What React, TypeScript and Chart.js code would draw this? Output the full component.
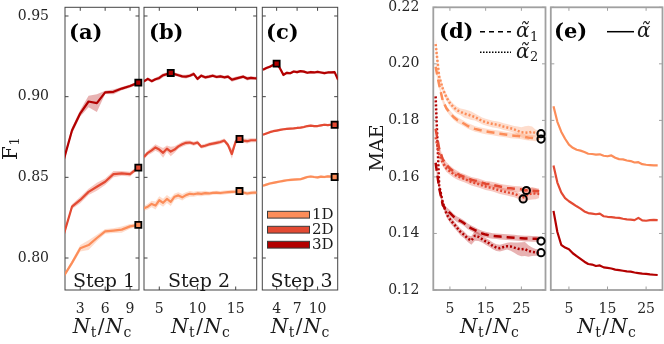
import React, { useEffect, useRef } from "react";
import { Chart, registerables } from "chart.js";

Chart.register(...registerables);

const W = 664;
const H = 344;
const TOP = 7.3;
const BOTTOM = 290;
const SERIF = '"DejaVu Serif", "Liberation Serif", serif';

const C1D = "#fc8d59";
const C2D = "#e34a33";
const C3D = "#b30000";

// ---------- Panel (a): Step 1 ----------
const xA = [1, 2, 3, 4, 5, 6, 7, 8, 9, 10];
const a1D = [0.7886, 0.797, 0.806, 0.808, 0.8124, 0.8165, 0.817, 0.8176, 0.8196, 0.8205];
const a2D = [0.8143, 0.8318, 0.836, 0.841, 0.8442, 0.8473, 0.852, 0.8525, 0.852, 0.856];
const a3D = [0.8607, 0.879, 0.8897, 0.897, 0.896, 0.9027, 0.903, 0.905, 0.9066, 0.9087];
const a1De = [0.001, 0.0015, 0.002, 0.003, 0.002, 0.0015, 0.0015, 0.002, 0.0015, 0.001];
const a2De = [0.001, 0.0015, 0.002, 0.002, 0.0025, 0.002, 0.002, 0.0015, 0.0015, 0.001];
const a3De = [0.001, 0.002, 0.002, 0.0035, 0.0055, 0.001, 0.0015, 0.001, 0.001, 0.0008];
const aBestX = [10, 10, 10];
const aBestY = [0.8205, 0.856, 0.9087];

// ---------- Panel (b): Step 2 ----------
const xB = [3, 3.5, 4, 4.5, 5, 5.5, 6, 6.5, 7, 7.5, 8, 8.5, 9, 9.5, 10, 10.5, 11, 11.5, 12, 12.5, 13, 13.5, 14, 14.5, 15, 15.5, 16, 16.5, 17, 17.5, 17.75];
const b1D = [0.8308, 0.8318, 0.8335, 0.8325, 0.8358, 0.8342, 0.8366, 0.8348, 0.838, 0.8388, 0.8376, 0.839, 0.8398, 0.8395, 0.84, 0.8398, 0.8402, 0.84, 0.8404, 0.8405, 0.8403, 0.8406, 0.8408, 0.841, 0.8412, 0.8415, 0.8406, 0.84, 0.8404, 0.8406, 0.8405];
const b2D = [0.8626, 0.8652, 0.8667, 0.8685, 0.8672, 0.8652, 0.8678, 0.866, 0.8672, 0.8692, 0.8705, 0.8714, 0.8716, 0.8708, 0.8716, 0.869, 0.8696, 0.8704, 0.8709, 0.8714, 0.8719, 0.8728, 0.87, 0.8645, 0.8722, 0.8738, 0.8728, 0.8724, 0.873, 0.873, 0.8731];
const b3D = [0.9095, 0.911, 0.9096, 0.9108, 0.9116, 0.9133, 0.914, 0.9147, 0.914, 0.9133, 0.9126, 0.9124, 0.913, 0.9141, 0.911, 0.913, 0.912, 0.9124, 0.913, 0.9122, 0.9126, 0.912, 0.9124, 0.9105, 0.9112, 0.9118, 0.9124, 0.9112, 0.9116, 0.9114, 0.9113];
const b1De = [0.0015, 0.0018, 0.002, 0.0025, 0.0025, 0.0025, 0.0025, 0.0025, 0.002, 0.002, 0.002, 0.0018, 0.0018, 0.0015, 0.0015, 0.0015, 0.0015, 0.0012, 0.0012, 0.0012, 0.0012, 0.0012, 0.0012, 0.0012, 0.0012, 0.0012, 0.0012, 0.0012, 0.0012, 0.0012, 0.0012];
const b2De = [0.0012, 0.0015, 0.0018, 0.002, 0.002, 0.003, 0.002, 0.003, 0.002, 0.0015, 0.0015, 0.0015, 0.0012, 0.0012, 0.0012, 0.0012, 0.0012, 0.0012, 0.0012, 0.0012, 0.0012, 0.0012, 0.0015, 0.003, 0.0015, 0.0015, 0.0012, 0.0015, 0.0012, 0.0012, 0.0012];
const b3De = [0.0008, 0.001, 0.001, 0.001, 0.0012, 0.0012, 0.001, 0.0012, 0.001, 0.001, 0.001, 0.0012, 0.001, 0.0012, 0.0012, 0.001, 0.001, 0.001, 0.001, 0.001, 0.001, 0.001, 0.001, 0.0012, 0.0012, 0.001, 0.001, 0.0012, 0.001, 0.001, 0.001];
const bBestX = [15.5, 15.5, 6.5];
const bBestY = [0.8415, 0.8738, 0.9147];

// ---------- Panel (c): Step 3 ----------
const xC = [2, 2.5, 3, 3.5, 4, 4.5, 5, 5.5, 6, 6.5, 7, 7.5, 8, 8.5, 9, 9.5, 10, 10.5, 11, 11.5, 12, 12.5, 13];
const c1D = [0.8448, 0.8455, 0.8462, 0.8466, 0.847, 0.8474, 0.8478, 0.8482, 0.8484, 0.8486, 0.8487, 0.8488, 0.8495, 0.8502, 0.8505, 0.8502, 0.85, 0.8504, 0.8502, 0.8506, 0.8505, 0.8502, 0.8504];
const c2D = [0.8764, 0.8772, 0.878, 0.8786, 0.879, 0.8794, 0.8798, 0.88, 0.8802, 0.8803, 0.8806, 0.8808, 0.8812, 0.8818, 0.882, 0.8818, 0.8818, 0.8822, 0.8826, 0.8824, 0.8826, 0.8826, 0.8828];
const c3D = [0.9167, 0.9178, 0.9186, 0.9196, 0.9205, 0.9175, 0.9135, 0.9148, 0.9145, 0.9156, 0.9152, 0.9158, 0.9155, 0.9148, 0.9152, 0.915, 0.9154, 0.915, 0.9146, 0.915, 0.915, 0.9152, 0.9105];
const c1De = [0.0008, 0.0008, 0.0008, 0.0008, 0.0008, 0.0008, 0.0008, 0.0008, 0.0008, 0.0008, 0.0008, 0.0008, 0.0008, 0.0008, 0.0008, 0.0008, 0.0008, 0.0008, 0.0008, 0.0008, 0.0008, 0.0008, 0.0008];
const c2De = [0.0007, 0.0007, 0.0007, 0.0007, 0.0007, 0.0007, 0.0007, 0.0007, 0.0007, 0.0007, 0.0007, 0.0007, 0.0007, 0.0007, 0.0007, 0.0007, 0.0007, 0.0007, 0.0007, 0.0007, 0.0007, 0.0007, 0.0007];
const c3De = [0.0008, 0.0008, 0.0008, 0.0008, 0.0008, 0.001, 0.001, 0.0008, 0.0008, 0.0008, 0.0008, 0.0008, 0.0008, 0.0008, 0.0008, 0.0008, 0.0008, 0.0008, 0.0008, 0.0008, 0.0008, 0.0008, 0.0012];
const cBestX = [12.5, 12.5, 4];
const cBestY = [0.8502, 0.8826, 0.9205];

// ---------- Panel (d): MAE, alpha1 (dashed) / alpha2 (dotted) ----------
const xD = [1, 2, 3, 4, 5, 6, 7, 8, 9, 10, 11, 12, 13, 14, 15, 16, 17, 18, 19, 20, 21, 22, 23, 24, 25, 26, 27, 28, 29, 30];
const d1Da1 = [0.199, 0.1925, 0.187, 0.1843, 0.1826, 0.1812, 0.1802, 0.1795, 0.1788, 0.178, 0.1775, 0.177, 0.1767, 0.1764, 0.1761, 0.1759, 0.1757, 0.1755, 0.1753, 0.1751, 0.1749, 0.1747, 0.1746, 0.1745, 0.1743, 0.1741, 0.1739, 0.1738, 0.1736, 0.1734];
const d1Da2 = [0.207, 0.1955, 0.1912, 0.1882, 0.1861, 0.1847, 0.1836, 0.183, 0.1824, 0.1821, 0.1816, 0.1812, 0.1805, 0.1798, 0.1794, 0.179, 0.1787, 0.1785, 0.1782, 0.1778, 0.1775, 0.1772, 0.1768, 0.1763, 0.1758, 0.1757, 0.1756, 0.176, 0.1755, 0.1753];
const d2Da1 = [0.177, 0.17, 0.1662, 0.1643, 0.163, 0.162, 0.1612, 0.1605, 0.16, 0.1595, 0.159, 0.1587, 0.1584, 0.158, 0.1576, 0.1575, 0.1572, 0.1569, 0.1566, 0.1563, 0.1561, 0.156, 0.1558, 0.1557, 0.1556, 0.1552, 0.1554, 0.1551, 0.155, 0.1549];
const d2Da2 = [0.174, 0.168, 0.165, 0.163, 0.162, 0.161, 0.1603, 0.1598, 0.1593, 0.1588, 0.1582, 0.1578, 0.1575, 0.157, 0.1566, 0.1563, 0.156, 0.1556, 0.1552, 0.1549, 0.1546, 0.1543, 0.154, 0.1535, 0.1525, 0.153, 0.1538, 0.1542, 0.1541, 0.154];
const d3Da1 = [0.165, 0.156, 0.15, 0.1484, 0.1473, 0.146, 0.145, 0.1444, 0.1436, 0.1425, 0.1418, 0.1412, 0.1405, 0.14, 0.1396, 0.1393, 0.1391, 0.139, 0.1389, 0.1388, 0.1387, 0.1386, 0.1385, 0.1384, 0.1383, 0.1382, 0.1382, 0.1381, 0.1381, 0.138];
const d3Da2 = [0.1885, 0.157, 0.151, 0.147, 0.145, 0.1435, 0.142, 0.1405, 0.1395, 0.1382, 0.1375, 0.1392, 0.1388, 0.138, 0.1372, 0.1365, 0.1356, 0.135, 0.1348, 0.1352, 0.1355, 0.1354, 0.135, 0.1346, 0.1344, 0.1345, 0.1338, 0.1335, 0.1333, 0.1332];
const d1Da1e = [0.0015, 0.0012, 0.001, 0.001, 0.001, 0.001, 0.001, 0.001, 0.001, 0.001, 0.001, 0.001, 0.001, 0.001, 0.001, 0.001, 0.001, 0.001, 0.001, 0.001, 0.001, 0.001, 0.001, 0.001, 0.001, 0.001, 0.001, 0.001, 0.001, 0.001];
const d1Da2e = [0.003, 0.0015, 0.0012, 0.0012, 0.0012, 0.0012, 0.0012, 0.0012, 0.0015, 0.0015, 0.0015, 0.0012, 0.0012, 0.0012, 0.0012, 0.0012, 0.0012, 0.0012, 0.0012, 0.0012, 0.0012, 0.0012, 0.0012, 0.0015, 0.0018, 0.0022, 0.0025, 0.0018, 0.0012, 0.0012];
const d2Da1e = [0.0015, 0.0012, 0.001, 0.001, 0.001, 0.001, 0.001, 0.001, 0.001, 0.001, 0.001, 0.001, 0.001, 0.001, 0.001, 0.001, 0.001, 0.001, 0.001, 0.001, 0.001, 0.001, 0.001, 0.001, 0.001, 0.001, 0.001, 0.001, 0.001, 0.001];
const d2Da2e = [0.002, 0.0015, 0.0012, 0.0012, 0.0012, 0.0012, 0.0012, 0.0012, 0.0012, 0.0012, 0.0012, 0.0012, 0.0012, 0.0012, 0.0012, 0.0012, 0.0012, 0.0012, 0.0012, 0.0012, 0.0012, 0.0012, 0.0012, 0.0012, 0.0015, 0.0015, 0.002, 0.0022, 0.002, 0.0015];
const d3Da1e = [0.0015, 0.0012, 0.001, 0.001, 0.001, 0.001, 0.001, 0.001, 0.001, 0.001, 0.001, 0.001, 0.001, 0.001, 0.001, 0.001, 0.001, 0.001, 0.001, 0.001, 0.001, 0.001, 0.001, 0.001, 0.001, 0.001, 0.001, 0.001, 0.001, 0.001];
const d3Da2e = [0.002, 0.0015, 0.0012, 0.0012, 0.0012, 0.0012, 0.0012, 0.0012, 0.0012, 0.0012, 0.0015, 0.0018, 0.0015, 0.0012, 0.0012, 0.0012, 0.0012, 0.0012, 0.0012, 0.0012, 0.0012, 0.0015, 0.0018, 0.0022, 0.0025, 0.0025, 0.002, 0.0015, 0.0012, 0.0012];
const dBestX = [30.5, 30.5, 25.5, 26.4, 30.5, 30.5];
const dBestY = [0.1753, 0.1734, 0.1522, 0.1552, 0.1373, 0.1332];

// ---------- Panel (e): MAE, alpha (solid) ----------
const xE = [1, 2, 3, 4, 5, 6, 7, 8, 9, 10, 11, 12, 13, 14, 15, 16, 17, 18, 19, 20, 21, 22, 23, 24, 25, 26, 27, 28];
const e1D = [0.185, 0.1795, 0.176, 0.1735, 0.1714, 0.1703, 0.1696, 0.1693, 0.1688, 0.1682, 0.1681, 0.1679, 0.168, 0.1675, 0.1673, 0.1676, 0.1668, 0.1663, 0.1662, 0.1658, 0.1656, 0.1651, 0.1652, 0.1645, 0.1643, 0.1642, 0.1641, 0.1641];
const e2D = [0.164, 0.158, 0.1545, 0.1525, 0.1514, 0.1505, 0.1496, 0.1488, 0.1478, 0.1472, 0.147, 0.1468, 0.147, 0.1461, 0.1459, 0.1458, 0.1456, 0.1455, 0.1452, 0.145, 0.1449, 0.1447, 0.1455, 0.1446, 0.1445, 0.1447, 0.1448, 0.1447];
const e3D = [0.148, 0.1405, 0.136, 0.135, 0.1344, 0.133, 0.132, 0.131, 0.13, 0.1292, 0.129, 0.1285, 0.1287, 0.128, 0.1278, 0.1276, 0.1272, 0.127, 0.1268, 0.1266, 0.1265, 0.1262, 0.126, 0.1258, 0.1257, 0.1255, 0.1254, 0.1253];

// ---------- ticks ----------
const yTicksF1 = [0.8, 0.85, 0.9, 0.95];
const yTicksMAE = [0.12, 0.14, 0.16, 0.18, 0.2, 0.22];
const xTicksA = [3, 6, 9];
const xTicksB = [5, 10, 15];
const xTicksC = [4, 7, 10];
const xTicksD = [5, 15, 25];
const xTicksE = [5, 15, 25];

function rgba(hex: string, a: number) {
  const n = parseInt(hex.slice(1), 16);
  return `rgba(${(n >> 16) & 255},${(n >> 8) & 255},${n & 255},${a})`;
}

interface Series {
  xs: number[];
  ys: number[];
  err?: number[];
  color: string;
  width: number;
  dash?: number[];
}
interface Markers {
  xs: number[];
  ys: number[];
  colors: string[];
  style: "rect" | "circle";
}
interface Panel {
  id: string;
  left: number;
  right: number;
  xMin: number;
  xMax: number;
  yMin: number;
  yMax: number;
  xTicks: number[];
  yTicks: number[];
  yLabels: boolean;
  yPad: number;
  frame: string;
  frameW: number;
  series: Series[];
  markers?: Markers;
  draw: (ctx: CanvasRenderingContext2D) => void;
}

type Part = { t: string; font: string; dy?: number; dx?: number };

function drawParts(ctx: CanvasRenderingContext2D, parts: Part[], x: number, y: number, align: "left" | "center") {
  ctx.textAlign = "left";
  ctx.textBaseline = "alphabetic";
  const widths = parts.map((p) => {
    ctx.font = p.font;
    return ctx.measureText(p.t).width;
  });
  const total = widths.reduce((s, w, i) => s + w + (parts[i].dx || 0), 0);
  let cx = align === "center" ? x - total / 2 : x;
  parts.forEach((p, i) => {
    ctx.font = p.font;
    cx += p.dx || 0;
    ctx.fillText(p.t, cx, y + (p.dy || 0));
    cx += widths[i];
  });
}

const xTitleParts: Part[] = [
  { t: "N", font: `italic 20px ${SERIF}` },
  { t: "t", font: `14px ${SERIF}`, dy: 4, dx: 0.5 },
  { t: "/", font: `20px ${SERIF}`, dx: 1.5 },
  { t: "N", font: `italic 20px ${SERIF}`, dx: 1 },
  { t: "c", font: `14px ${SERIF}`, dy: 4, dx: 0.5 },
];

function drawXTitle(ctx: CanvasRenderingContext2D, cx: number) {
  ctx.fillStyle = "#1a1a1a";
  drawParts(ctx, xTitleParts, cx, 333, "center");
}
function drawLabel(ctx: CanvasRenderingContext2D, t: string, x: number, y: number) {
  ctx.fillStyle = "#000";
  ctx.font = `bold 21px ${SERIF}`;
  ctx.textAlign = "left";
  ctx.textBaseline = "alphabetic";
  ctx.fillText(t, x, y);
}
function drawStep(ctx: CanvasRenderingContext2D, t: string, cx: number) {
  ctx.fillStyle = "#1a1a1a";
  ctx.font = `19px ${SERIF}`;
  ctx.textAlign = "center";
  ctx.textBaseline = "alphabetic";
  ctx.fillText(t, cx, 287);
}
function alphaParts(sub: string): Part[] {
  const p: Part[] = [{ t: "\u03B1\u0303", font: `italic 20px ${SERIF}` }];
  if (sub) p.push({ t: sub, font: `13px ${SERIF}`, dy: 3.5, dx: 0.5 });
  return p;
}

const panels: Panel[] = [
  {
    id: "a",
    left: 65,
    right: 139,
    xMin: 1.16,
    xMax: 10.08,
    yMin: 0.78017,
    yMax: 0.95539,
    xTicks: xTicksA,
    yTicks: yTicksF1,
    yLabels: true,
    yPad: 8,
    frame: "#444444",
    frameW: 1,
    series: [
      { xs: xA, ys: a1D, err: a1De, color: C1D, width: 2.2 },
      { xs: xA, ys: a2D, err: a2De, color: C2D, width: 2.2 },
      { xs: xA, ys: a3D, err: a3De, color: C3D, width: 2.2 },
    ],
    markers: { xs: aBestX, ys: aBestY, colors: [C1D, C2D, C3D], style: "rect" },
    draw: (ctx) => {
      drawLabel(ctx, "(a)", 69, 39);
      drawStep(ctx, "Step 1", 104);
      drawXTitle(ctx, 102);
      ctx.save();
      ctx.translate(16.5, 160);
      ctx.rotate(-Math.PI / 2);
      ctx.fillStyle = "#1a1a1a";
      drawParts(ctx, [
        { t: "F", font: `20px ${SERIF}` },
        { t: "1", font: `13px ${SERIF}`, dy: 2.5, dx: 0.5 },
      ], 0, 0, "left");
      ctx.restore();
    },
  },
  {
    id: "b",
    left: 144,
    right: 256.7,
    xMin: 3,
    xMax: 17.75,
    yMin: 0.78017,
    yMax: 0.95539,
    xTicks: xTicksB,
    yTicks: yTicksF1,
    yLabels: false,
    yPad: 8,
    frame: "#444444",
    frameW: 1,
    series: [
      { xs: xB, ys: b1D, err: b1De, color: C1D, width: 2.2 },
      { xs: xB, ys: b2D, err: b2De, color: C2D, width: 2.2 },
      { xs: xB, ys: b3D, err: b3De, color: C3D, width: 2.2 },
    ],
    markers: { xs: bBestX, ys: bBestY, colors: [C1D, C2D, C3D], style: "rect" },
    draw: (ctx) => {
      drawLabel(ctx, "(b)", 149, 39);
      drawStep(ctx, "Step 2", 199);
      drawXTitle(ctx, 200.4);
    },
  },
  {
    id: "c",
    left: 262.3,
    right: 337.7,
    xMin: 1.9,
    xMax: 12.95,
    yMin: 0.78017,
    yMax: 0.95539,
    xTicks: xTicksC,
    yTicks: yTicksF1,
    yLabels: false,
    yPad: 8,
    frame: "#444444",
    frameW: 1,
    series: [
      { xs: xC, ys: c1D, err: c1De, color: C1D, width: 2.2 },
      { xs: xC, ys: c2D, err: c2De, color: C2D, width: 2.2 },
      { xs: xC, ys: c3D, err: c3De, color: C3D, width: 2.2 },
    ],
    markers: { xs: cBestX, ys: cBestY, colors: [C1D, C2D, C3D], style: "rect" },
    draw: (ctx) => {
      drawLabel(ctx, "(c)", 266, 39);
      drawStep(ctx, "Step 3", 301.5);
      drawXTitle(ctx, 300);
      const names = ["1D", "2D", "3D"];
      const cols = [C1D, C2D, C3D];
      const ys = [214.7, 229.7, 244.7];
      names.forEach((n, i) => {
        ctx.fillStyle = cols[i];
        ctx.fillRect(267.5, ys[i] - 3.4, 42, 6.8);
        ctx.strokeStyle = "#3a3a3a";
        ctx.lineWidth = 1;
        ctx.strokeRect(267.5, ys[i] - 3.4, 42, 6.8);
        ctx.fillStyle = "#1a1a1a";
        ctx.font = `15px ${SERIF}`;
        ctx.textAlign = "left";
        ctx.textBaseline = "middle";
        ctx.fillText(n, 312, ys[i] + 0.5);
      });
    },
  },
  {
    id: "d",
    left: 433.3,
    right: 545.5,
    xMin: 0.35,
    xMax: 31.75,
    yMin: 0.12,
    yMax: 0.22,
    xTicks: xTicksD,
    yTicks: yTicksMAE,
    yLabels: true,
    yPad: 6,
    frame: "#a0a0a0",
    frameW: 1.8,
    series: [
      { xs: xD, ys: d1Da1, err: d1Da1e, color: C1D, width: 2.5, dash: [8, 5] },
      { xs: xD, ys: d1Da2, err: d1Da2e, color: C1D, width: 2.5, dash: [2, 2] },
      { xs: xD, ys: d2Da1, err: d2Da1e, color: C2D, width: 2.5, dash: [8, 5] },
      { xs: xD, ys: d2Da2, err: d2Da2e, color: C2D, width: 2.5, dash: [2, 2] },
      { xs: xD, ys: d3Da1, err: d3Da1e, color: C3D, width: 2.5, dash: [8, 5] },
      { xs: xD, ys: d3Da2, err: d3Da2e, color: C3D, width: 2.5, dash: [2, 2] },
    ],
    markers: { xs: dBestX, ys: dBestY, colors: ["", "", "", "", "", ""], style: "circle" },
    draw: (ctx) => {
      drawLabel(ctx, "(d)", 439, 37.5);
      drawXTitle(ctx, 489.4);
      ctx.save();
      ctx.translate(383, 148);
      ctx.rotate(-Math.PI / 2);
      ctx.fillStyle = "#1a1a1a";
      ctx.font = `19px ${SERIF}`;
      ctx.textAlign = "center";
      ctx.textBaseline = "alphabetic";
      ctx.fillText("MAE", 0, 0);
      ctx.restore();
      ctx.strokeStyle = "#000";
      ctx.lineWidth = 1.5;
      ctx.setLineDash([5, 4]);
      ctx.beginPath();
      ctx.moveTo(480, 31.7);
      ctx.lineTo(511, 31.7);
      ctx.stroke();
      ctx.setLineDash([1.5, 1.5]);
      ctx.beginPath();
      ctx.moveTo(480, 52.3);
      ctx.lineTo(511, 52.3);
      ctx.stroke();
      ctx.setLineDash([]);
      ctx.fillStyle = "#1a1a1a";
      drawParts(ctx, alphaParts("1"), 516, 37, "left");
      drawParts(ctx, alphaParts("2"), 516, 57.5, "left");
    },
  },
  {
    id: "e",
    left: 550.8,
    right: 662.5,
    xMin: 0.3,
    xMax: 29.25,
    yMin: 0.12,
    yMax: 0.22,
    xTicks: xTicksE,
    yTicks: yTicksMAE,
    yLabels: false,
    yPad: 6,
    frame: "#a0a0a0",
    frameW: 1.8,
    series: [
      { xs: xE, ys: e1D, color: C1D, width: 2.2 },
      { xs: xE, ys: e2D, color: C2D, width: 2.2 },
      { xs: xE, ys: e3D, color: C3D, width: 2.2 },
    ],
    draw: (ctx) => {
      drawLabel(ctx, "(e)", 554, 37.5);
      drawXTitle(ctx, 606.6);
      ctx.strokeStyle = "#000";
      ctx.lineWidth = 1.5;
      ctx.beginPath();
      ctx.moveTo(607, 31.7);
      ctx.lineTo(634, 31.7);
      ctx.stroke();
      ctx.fillStyle = "#1a1a1a";
      drawParts(ctx, alphaParts(""), 637, 37, "left");
    },
  },
];

function buildConfig(p: Panel): any {
  const ds: any[] = [];
  p.series.forEach((s) => {
    if (s.err) {
      const err = s.err;
      ds.push({
        data: s.xs.map((x, i) => ({ x, y: s.ys[i] - err[i] })),
        borderWidth: 0,
        borderColor: "rgba(0,0,0,0)",
        backgroundColor: "rgba(0,0,0,0)",
        pointRadius: 0,
        fill: false,
        order: 3,
      });
      ds.push({
        data: s.xs.map((x, i) => ({ x, y: s.ys[i] + err[i] })),
        borderWidth: 0,
        borderColor: "rgba(0,0,0,0)",
        backgroundColor: rgba(s.color, 0.3),
        pointRadius: 0,
        fill: "-1",
        order: 3,
      });
    }
  });
  p.series.forEach((s) => {
    ds.push({
      data: s.xs.map((x, i) => ({ x, y: s.ys[i] })),
      borderColor: s.color,
      borderWidth: s.width,
      borderDash: s.dash || [],
      borderCapStyle: "butt",
      borderJoinStyle: "round",
      backgroundColor: s.color,
      pointRadius: 0,
      fill: false,
      tension: 0,
      order: 2,
    });
  });
  if (p.markers) {
    const m = p.markers;
    const isRect = m.style === "rect";
    ds.push({
      data: m.xs.map((x, i) => ({ x, y: m.ys[i] })),
      showLine: false,
      pointStyle: m.style,
      pointRadius: isRect ? 4.3 : 3.6,
      pointBorderWidth: isRect ? 1.8 : 2,
      pointBorderColor: "#000",
      pointBackgroundColor: isRect ? m.colors : "rgba(0,0,0,0)",
      clip: false,
      order: 1,
    });
  }

  const zeroPad = (s: any) => {
    s.paddingLeft = 0;
    s.paddingRight = 0;
    s.paddingTop = 0;
    s.paddingBottom = 0;
  };

  const framePlugin = {
    id: "frameTicks" + p.id,
    beforeDatasetsDraw(chart: any) {
      const { ctx, chartArea: a, scales } = chart;
      ctx.save();
      ctx.strokeStyle = p.frame;
      ctx.lineWidth = p.frameW;
      ctx.strokeRect(a.left, a.top, a.right - a.left, a.bottom - a.top);
      ctx.lineWidth = 1;
      ctx.beginPath();
      const tl = 3.5;
      p.xTicks.forEach((v) => {
        const x = scales.x.getPixelForValue(v);
        ctx.moveTo(x, a.bottom);
        ctx.lineTo(x, a.bottom - tl);
        ctx.moveTo(x, a.top);
        ctx.lineTo(x, a.top + tl);
      });
      p.yTicks.forEach((v) => {
        const y = scales.y.getPixelForValue(v);
        ctx.moveTo(a.left, y);
        ctx.lineTo(a.left + tl, y);
        ctx.moveTo(a.right, y);
        ctx.lineTo(a.right - tl, y);
      });
      ctx.stroke();
      ctx.restore();
    },
    afterDraw(chart: any) {
      const ctx = chart.ctx;
      ctx.save();
      p.draw(ctx);
      ctx.restore();
    },
  };

  return {
    type: "line",
    data: { datasets: ds },
    options: {
      responsive: false,
      animation: false,
      devicePixelRatio: 1,
      events: [],
      layout: { padding: { left: 0, top: TOP, right: W - p.right, bottom: 0 } },
      plugins: { legend: { display: false }, tooltip: { enabled: false } },
      scales: {
        x: {
          type: "linear",
          position: "bottom",
          min: p.xMin,
          max: p.xMax,
          grid: { display: false },
          border: { display: false },
          afterBuildTicks: (s: any) => {
            s.ticks = p.xTicks.map((v) => ({ value: v }));
          },
          afterFit: (s: any) => {
            s.height = H - BOTTOM;
            zeroPad(s);
          },
          ticks: {
            autoSkip: false,
            maxRotation: 0,
            minRotation: 0,
            padding: 3,
            color: "#262626",
            font: { family: SERIF, size: 14 },
            callback: (v: any) => String(v),
          },
        },
        y: {
          type: "linear",
          position: "left",
          min: p.yMin,
          max: p.yMax,
          grid: { display: false },
          border: { display: false },
          afterBuildTicks: (s: any) => {
            s.ticks = p.yTicks.map((v) => ({ value: v }));
          },
          afterFit: (s: any) => {
            s.width = p.left;
            zeroPad(s);
          },
          ticks: {
            display: p.yLabels,
            padding: p.yPad,
            color: "#262626",
            font: { family: SERIF, size: 14 },
            callback: (v: any) => Number(v).toFixed(2),
          },
        },
      },
    },
    plugins: [framePlugin],
  };
}

function PanelChart({ p }: { p: Panel }) {
  const ref = useRef<HTMLCanvasElement>(null);
  useEffect(() => {
    if (!ref.current) return;
    const chart = new Chart(ref.current, buildConfig(p));
    return () => chart.destroy();
  }, [p]);
  return (
    <canvas
      ref={ref}
      width={W}
      height={H}
      style={{ position: "absolute", left: 0, top: 0, width: W, height: H }}
    />
  );
}

export default function App() {
  return (
    <div
      style={{
        position: "absolute",
        left: 0,
        top: 0,
        width: W,
        height: H,
        background: "#ffffff",
        overflow: "hidden",
      }}
    >
      {panels.map((p) => (
        <PanelChart key={p.id} p={p} />
      ))}
    </div>
  );
}
